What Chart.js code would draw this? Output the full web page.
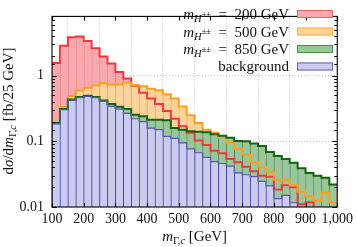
<!DOCTYPE html>
<html>
<head>
<meta charset="utf-8">
<script src="https://cdn.jsdelivr.net/npm/chart.js@4/dist/chart.umd.min.js"></script>
<style>
  html, body { margin: 0; padding: 0; background: #fff; }
  #caixa { width: 357px; height: 247px; }
</style>
</head>
<body>
<div id="caixa"><canvas id="myChart"></canvas></div>
<script>
// bins de 25 GeV (borda inferior)
const binLow = [100, 125, 150, 175, 200, 225, 250, 275, 300, 325, 350, 375,
                400, 425, 450, 475, 500, 525, 550, 575, 600, 625, 650, 675,
                700, 725, 750, 775, 800, 825, 850, 875, 900, 925, 950, 975];
const binWidth = 25;

// dsigma/dm [fb/25 GeV]
const sinal200 = [1.56, 2.86, 3.84, 3.97, 3.37, 2.62, 1.96, 1.54, 1.14, 0.91, 0.70, 0.55,
                  0.45, 0.37, 0.29, 0.22, 0.17, 0.135, 0.103, 0.088, 0.072, 0.066, 0.054, 0.048,
                  0.041, 0.035, 0.030, 0.029, 0.0185, 0.0215, 0.020, 0.011, 0.0118, 0.005, 0.005, 0.005];
const sinal500 = [0.196, 0.333, 0.489, 0.594, 0.655, 0.706, 0.77, 0.73, 0.736, 0.785, 0.713, 0.69,
                  0.634, 0.60, 0.52, 0.45, 0.34, 0.25, 0.19, 0.15, 0.135, 0.115, 0.095, 0.077,
                  0.063, 0.048, 0.040, 0.034, 0.026, 0.026, 0.0214, 0.0172, 0.0146, 0.0124, 0.0166, 0.0118];
const sinal850 = [0.19, 0.31, 0.433, 0.473, 0.493, 0.473, 0.42, 0.371, 0.337, 0.31, 0.255, 0.241,
                  0.214, 0.214, 0.21, 0.159, 0.150, 0.143, 0.140, 0.138, 0.128, 0.122, 0.113, 0.101,
                  0.100, 0.093, 0.085, 0.069, 0.060, 0.054, 0.047, 0.039, 0.033, 0.030, 0.028, 0.022];
const fundo = [0.184, 0.303, 0.42, 0.462, 0.482, 0.462, 0.41, 0.341, 0.31, 0.266, 0.221, 0.20,
               0.159, 0.151, 0.119, 0.111, 0.095, 0.077, 0.067, 0.057, 0.049, 0.046, 0.042, 0.033,
               0.031, 0.029, 0.0246, 0.021, 0.0134, 0.015, 0.0116, 0.005, 0.005, 0.005, 0.005, 0.005];

const xTicks = [100, 200, 300, 400, 500, 600, 700, 800, 900, 1000];
const yLabels = [0.01, 0.1, 1];
const yLabelText = ['0.01', '0.1', '1'];
const massas = ['200', '500', '850'];

const serif = '"Liberation Serif", "Times New Roman", serif';

const cores = {
  vermelho: { fill: '#f8a9ae', line: '#ee3a3f', edge: '#f27a82', box: '#f06068' },
  laranja:  { fill: '#ffd49c', line: '#ff9f1c', edge: '#f9ac4a', box: '#ffb040' },
  verde:    { fill: '#99c69b', line: '#12660f', edge: '#4d8d4d', box: '#4c8c4c' },
  azul:     { fill: '#cbcbee', line: '#5656bb', edge: '#3f3fb2', box: '#6060c0' }
};

function barras(vals, c, ordem) {
  return {
    type: 'bar',
    data: vals.map((v, i) => ({ x: binLow[i] + binWidth / 2, y: v })),
    backgroundColor: c.fill,
    borderColor: c.edge,
    borderWidth: { left: 1, right: 0, top: 0, bottom: 0 },
    order: ordem
  };
}

function degraus(vals, c, larg, ordem) {
  const pts = vals.map((v, i) => ({ x: binLow[i], y: v }));
  pts.push({ x: binLow[binLow.length - 1] + binWidth, y: vals[vals.length - 1] });
  return {
    type: 'line',
    data: pts,
    borderColor: c.line,
    borderWidth: larg,
    stepped: true,
    pointRadius: 0,
    fill: false,
    order: ordem
  };
}

function ehDecada(v) {
  const l = Math.log10(v);
  return Math.abs(l - Math.round(l)) < 1e-6;
}

// texto com indices: partes = [texto, tamanho, deslocamento y, italico]
function larguraTexto(ctx, partes) {
  let w = 0;
  partes.forEach(p => {
    ctx.font = (p[3] ? 'italic ' : '') + p[1] + 'px ' + serif;
    w += ctx.measureText(p[0]).width;
  });
  return w;
}
function escrever(ctx, partes, x, y, alinhar) {
  const total = larguraTexto(ctx, partes);
  let cx = alinhar === 'right' ? x - total : alinhar === 'center' ? x - total / 2 : x;
  ctx.textAlign = 'left';
  ctx.textBaseline = 'alphabetic';
  partes.forEach(p => {
    ctx.font = (p[3] ? 'italic ' : '') + p[1] + 'px ' + serif;
    ctx.fillText(p[0], cx, y + p[2]);
    cx += ctx.measureText(p[0]).width;
  });
}

const moldura = {
  id: 'moldura',
  afterDraw(chart) {
    const { ctx, chartArea: a, scales } = chart;
    const x = scales.x, y = scales.y;
    ctx.save();
    ctx.strokeStyle = '#000';
    ctx.lineWidth = 1.1;
    ctx.beginPath();
    xTicks.forEach(t => {
      const px = Math.round(x.getPixelForValue(t)) + 0.5;
      ctx.moveTo(px, a.bottom); ctx.lineTo(px, a.bottom - 4);
      ctx.moveTo(px, a.top); ctx.lineTo(px, a.top + 4);
    });
    y.ticks.forEach(t => {
      const py = Math.round(y.getPixelForValue(t.value)) + 0.5;
      const len = ehDecada(t.value) ? 5 : 3;
      ctx.moveTo(a.left, py); ctx.lineTo(a.left + len, py);
      ctx.moveTo(a.right, py); ctx.lineTo(a.right - len, py);
    });
    ctx.stroke();
    ctx.strokeRect(a.left, a.top, a.right - a.left, a.bottom - a.top);

    // legenda
    const lista = [cores.vermelho, cores.laranja, cores.verde, cores.azul];
    lista.forEach((c, i) => {
      const yc = 14 + i * 17.5;
      ctx.fillStyle = c.fill;
      ctx.fillRect(297, yc - 4, 36, 8);
      ctx.strokeStyle = c.box;
      ctx.lineWidth = 1;
      ctx.strokeRect(297.5, yc - 3.5, 35, 7);
      ctx.fillStyle = '#111';
      if (i < 3) {
        escrever(ctx, [['m', 15, 0, true], ['H', 10.5, 3, true], ['\u00b1\u00b1', 8.5, -2.5, false],
                       ['  =  ' + massas[i] + ' GeV', 15, 0, false]], 289, yc + 5, 'right');
      } else {
        escrever(ctx, [['background', 15, 0, false]], 289, yc + 4, 'right');
      }
    });

    // titulos dos eixos
    escrever(ctx, [['m', 15, 0, true], ['\u0393,', 10.5, 3, false], ['c', 10.5, 3, true],
                   [' [GeV]', 15, 0, false]], (a.left + a.right) / 2, 241, 'center');
    ctx.translate(13, 111);
    ctx.rotate(-Math.PI / 2);
    escrever(ctx, [['d', 15, 0, false], ['\u03c3', 15, 0, true], ['/d', 15, 0, false], ['m', 15, 0, true],
                   ['\u0393,', 10.5, 3, false], ['c', 10.5, 3, true], [' [fb/25 GeV]', 15, 0, false]], 0, 0, 'center');
    ctx.restore();
  }
};

const grafico = document.getElementById('myChart');
new Chart(grafico, {
  type: 'bar',
  data: {
    datasets: [
      barras(sinal200, cores.vermelho, 8),
      barras(sinal500, cores.laranja, 7),
      barras(sinal850, cores.verde, 6),
      barras(fundo, cores.azul, 5),
      degraus(sinal200, cores.vermelho, 2, 4),
      degraus(sinal500, cores.laranja, 2, 3),
      degraus(sinal850, cores.verde, 2, 2),
      degraus(fundo, cores.azul, 1.2, 1)
    ]
  },
  options: {
    responsive: true,
    maintainAspectRatio: false,
    animation: false,
    datasets: { bar: { grouped: false, barPercentage: 1, categoryPercentage: 1 } },
    layout: { padding: { top: 1, right: 16, left: 0, bottom: 0 } },
    plugins: { legend: { display: false }, tooltip: { enabled: false } },
    scales: {
      x: {
        type: 'linear', min: 100, max: 1000, offset: false,
        afterBuildTicks: s => { s.ticks = xTicks.map(v => ({ value: v })); },
        ticks: { autoSkip: false, maxRotation: 0, padding: 4, color: '#111', font: { family: serif, size: 14 } },
        grid: {
          drawTicks: false, lineWidth: 0.8,
          color: c => (c.tick && c.tick.value > 100 && c.tick.value < 1000) ? '#b5b5b5' : 'rgba(0,0,0,0)'
        },
        border: { display: false, dash: [1, 2] },
        afterFit: s => { s.height = 40; },
        z: 1
      },
      y: {
        type: 'logarithmic', min: 0.01, max: 8,
        ticks: {
          autoSkip: false, padding: 8, color: '#111', font: { family: serif, size: 14 },
          callback: v => {
            const i = yLabels.findIndex(l => Math.abs(l - v) < l * 1e-6);
            return i >= 0 ? yLabelText[i] : '';
          }
        },
        grid: {
          drawTicks: false, lineWidth: 0.8,
          color: c => (c.tick && ehDecada(c.tick.value) && c.tick.value > 0.011) ? '#b5b5b5' : 'rgba(0,0,0,0)'
        },
        border: { display: false, dash: [1, 2] },
        afterFit: s => { s.width = 52; },
        z: 1
      }
    }
  },
  plugins: [moldura]
});
</script>
</body>
</html>
